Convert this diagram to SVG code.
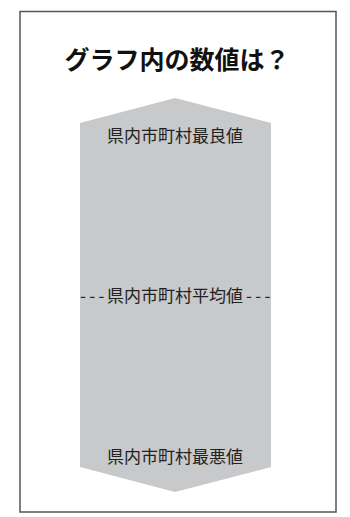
<svg xmlns="http://www.w3.org/2000/svg" width="350" height="517" viewBox="0 0 350 517">
<style>
.lbl{font-family:"Noto Sans CJK JP","Noto Sans",sans-serif;font-size:17px;fill:#222;text-anchor:middle}
.ttl{font-family:"Noto Sans CJK JP","Noto Sans",sans-serif;font-size:25px;font-weight:bold;fill:#111;text-anchor:middle}
.dash{letter-spacing:3.3px}
</style>
<rect x="20" y="11.5" width="316" height="500.5" fill="#fff" stroke="#555" stroke-width="1.5"/>
<g id="title"><text class="ttl" x="177" y="69">グラフ内の数値は？</text></g>
<g id="band"><polygon points="175,98 271,123 271,467 175,492 80,467 80,123" fill="#c8c9cb"/></g>
<g id="best"><text class="lbl" x="175" y="142">県内市町村最良値</text></g>
<g id="avg"><text class="lbl" style="text-anchor:start" y="302"><tspan class="dash" x="80">---</tspan><tspan x="107">県内市町村平均値</tspan><tspan class="dash" x="246">---</tspan></text></g>
<g id="worst"><text class="lbl" x="175" y="463">県内市町村最悪値</text></g>
<g id="connectors"></g>
</svg>
